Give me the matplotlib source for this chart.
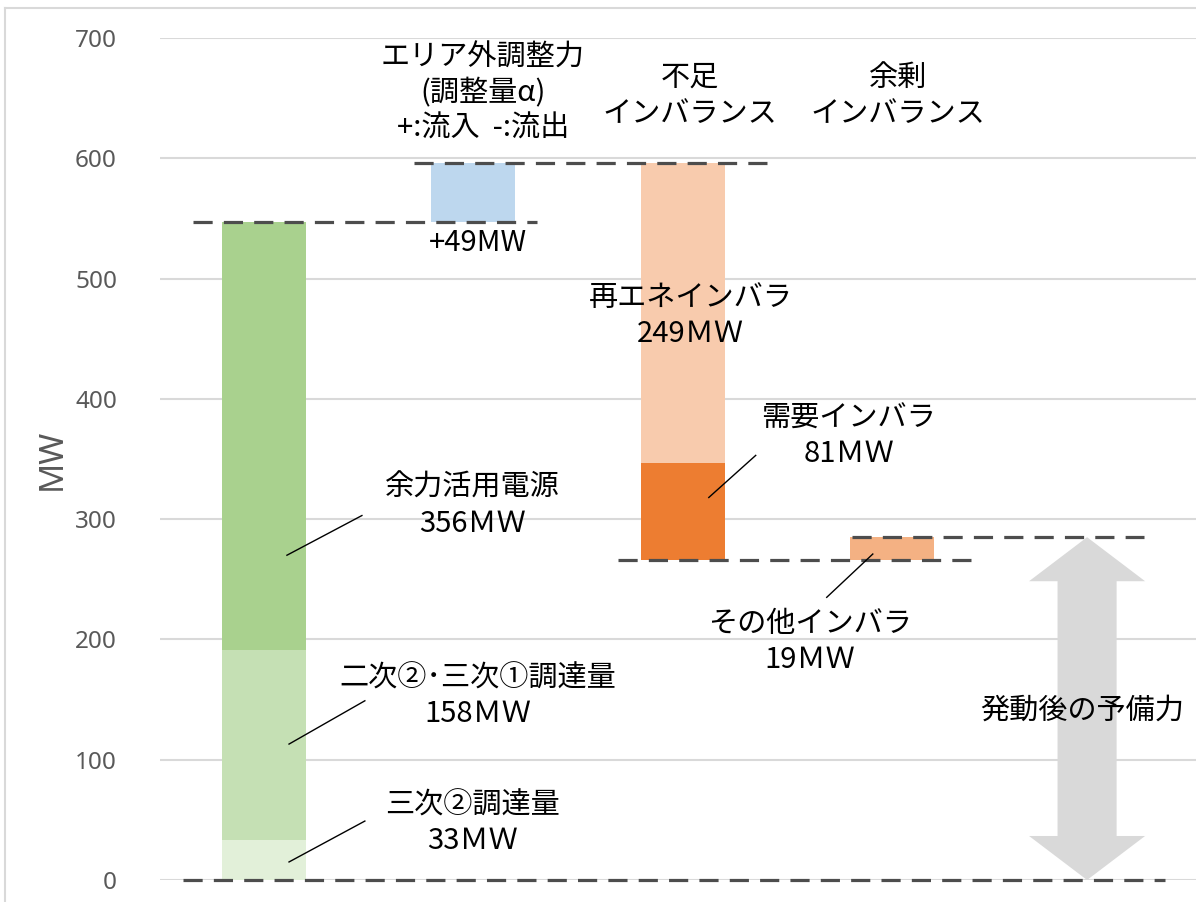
import numpy as np
import matplotlib
matplotlib.use("Agg")
import matplotlib.pyplot as plt
from matplotlib.lines import Line2D

plt.rcParams['font.family'] = ['Noto Sans CJK JP', 'DejaVu Sans']

# data (MW)
procure_labels = ['三次②調達量', '二次②･三次①調達量', '余力活用電源']
procure_mw = [33, 158, 356]
procure_colors = ['#E2F0D9', '#C5E0B4', '#A9D18E']
outside_mw = 49
short_labels = ['再エネインバラ', '需要インバラ']
short_mw = [249, 81]
short_colors = ['#F8CBAD', '#ED7D31']
surplus_label = 'その他インバラ'
surplus_mw = 19
yticks = [0, 100, 200, 300, 400, 500, 600, 700]

# cumulative levels
lvl_procure = sum(procure_mw)          # 547
lvl_outside = lvl_procure + outside_mw  # 596
lvl_short = lvl_outside - sum(short_mw)  # 266
lvl_reserve = lvl_short + surplus_mw     # 285

fig = plt.figure(figsize=(11.96, 9.02), dpi=100)
ax = fig.add_axes([160/1196, 22/902, 1036/1196, 842/902])
ax.set_xlim(-0.496, 4.45)
ax.set_ylim(0, 700)

for s in ax.spines.values():
    s.set_visible(False)
ax.set_xticks([])
ax.set_yticks(yticks)
ax.tick_params(axis='y', length=0, pad=31, labelsize=17.5, labelcolor='#595959')
for lab in ax.get_yticklabels():
    lab.set_fontfamily(['Noto Sans', 'DejaVu Sans'])
ax.yaxis.grid(True, color='#D9D9D9', lw=1.5)
ax.set_axisbelow(True)
ax.set_ylabel('MW', fontsize=24, color='#595959', family=['Noto Sans', 'DejaVu Sans'])
ax.yaxis.set_label_coords(-0.088, 0.5)

w = 0.4
# bar 1: procurement stacked
bottom = 0
for v, c in zip(procure_mw, procure_colors):
    ax.bar(0, v, bottom=bottom, width=w, color=c, zorder=2)
    bottom += v
# bar 2: outside area
ax.bar(1, outside_mw, bottom=lvl_procure, width=w, color='#BDD7EE', zorder=2)
# bar 3: shortage imbalance (going down)
top = lvl_outside
for v, c in zip(short_mw, short_colors):
    ax.bar(2, -v, bottom=top, width=w, color=c, zorder=2)
    top -= v
# bar 4: surplus imbalance
ax.bar(3, surplus_mw, bottom=lvl_short, width=w, color='#F4B183', zorder=2)

# double arrow for reserve
xa, hw, sw, hl = 3.93, 0.277, 0.141, 36.6
px = [xa, xa + hw, xa + sw, xa + sw, xa + hw, xa, xa - hw, xa - sw, xa - sw, xa - hw]
py = [lvl_reserve, lvl_reserve - hl, lvl_reserve - hl, hl, hl, 0, hl, hl,
      lvl_reserve - hl, lvl_reserve - hl]
ax.fill(px, py, color='#D9D9D9', lw=0, zorder=2)

# dashed level lines
dash = dict(color='#4D4D4D', lw=2.3, ls=(0, (6, 3.5)), zorder=3, clip_on=False)
ax.plot([-0.339, 1.303], [lvl_procure] * 2, **dash)
ax.plot([0.716, 2.406], [lvl_outside] * 2, **dash)
ax.plot([1.69, 3.40], [lvl_short] * 2, **dash)
ax.plot([2.81, 4.20], [lvl_reserve] * 2, **dash)
ax.plot([-0.386, 4.30], [0, 0], **dash)

# leader lines
leader = dict(color='black', lw=1, zorder=4)
ax.plot([0.11, 0.468], [270, 303], **leader)
ax.plot([0.12, 0.482], [113, 149], **leader)
ax.plot([0.12, 0.482], [15, 49], **leader)
ax.plot([2.124, 2.348], [318, 353], **leader)
ax.plot([2.907, 2.687], [271, 235], **leader)

txt = dict(ha='center', va='center', fontsize=21, linespacing=1.25, zorder=5,
           multialignment='center')
ax.text(1.045, 654, 'エリア外調整力\n(調整量α)\n+:流入  -:流出', **txt)
ax.text(1.02, 529.6, '+%dMW' % outside_mw, **txt)
ax.text(2.033, 652, '不足\nインバランス', **txt)
ax.text(3.026, 652, '余剰\nインバランス', **txt)
ax.text(2.038, 469, '%s\n%dＭＷ' % (short_labels[0], short_mw[0]), **txt)
ax.text(2.792, 369, '%s\n%dＭＷ' % (short_labels[1], short_mw[1]), **txt)
ax.text(0.997, 311, '%s\n%dＭＷ' % (procure_labels[2], procure_mw[2]), **txt)
ax.text(1.021, 152.5, '%s\n%dＭＷ' % (procure_labels[1], procure_mw[1]), **txt)
ax.text(0.997, 47, '%s\n%dＭＷ' % (procure_labels[0], procure_mw[0]), **txt)
ax.text(2.606, 198, '%s\n%dＭＷ' % (surplus_label, surplus_mw), **txt)
ax.text(3.905, 141, '発動後の予備力', **txt)

# outer frame
fig.add_artist(Line2D([5/1196, 1], [1 - 8/902] * 2, color='#D9D9D9', lw=1.5))
fig.add_artist(Line2D([5/1196] * 2, [0, 1 - 8/902], color='#D9D9D9', lw=1.5))

fig.savefig('out.png', dpi=100)
